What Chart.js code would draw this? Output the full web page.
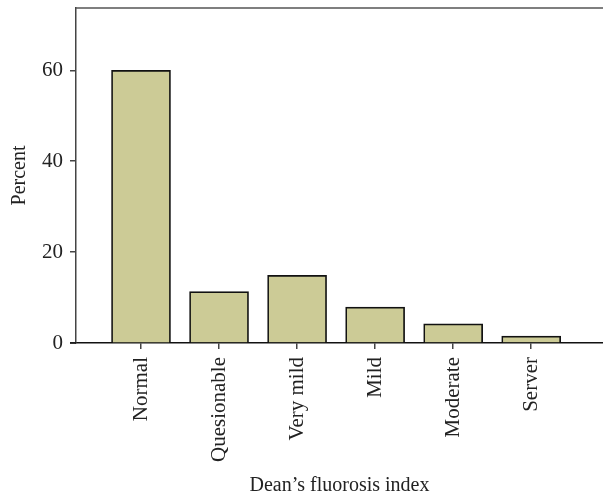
<!DOCTYPE html>
<html>
<head>
<meta charset="utf-8">
<script src="https://cdn.jsdelivr.net/npm/chart.js@4/dist/chart.umd.min.js"></script>
<style>
  html, body { margin: 0; padding: 0; background: #fff; overflow: hidden; }
  #wrap { width: 603px; height: 500px; }
</style>
</head>
<body>
<div id="wrap"><canvas id="barChart"></canvas></div>
<script>
const categories = ["Normal", "Quesionable", "Very mild", "Mild", "Moderate", "Server"];
const percents = [60.0, 11.3, 14.9, 7.9, 4.2, 1.5];
const yTicks = [0, 20, 40, 60];

const FONT = "'Liberation Serif', 'Times New Roman', serif";
const AXIS = "#444";

// top frame line, and the x axis running a little past the y axis
const frameLines = {
  id: 'frameLines',
  afterDraw(chart) {
    const { ctx, chartArea } = chart;
    ctx.save();
    ctx.lineWidth = 1.5;
    ctx.strokeStyle = "#555";
    ctx.beginPath();
    ctx.moveTo(chartArea.left, chartArea.top);
    ctx.lineTo(chartArea.right, chartArea.top);
    ctx.stroke();
    ctx.strokeStyle = "#111";
    ctx.beginPath();
    ctx.moveTo(chartArea.left - 6, chartArea.bottom);
    ctx.lineTo(chartArea.left, chartArea.bottom);
    ctx.stroke();
    ctx.restore();
  }
};

const canvas = document.getElementById('barChart');
new Chart(canvas, {
  type: 'bar',
  data: {
    datasets: [{
      data: percents.map((v, i) => ({ x: i, y: v })),
      backgroundColor: "#cccb96",
      borderColor: "#111",
      borderWidth: 1.7,
      barThickness: 59
    }]
  },
  options: {
    responsive: true,
    maintainAspectRatio: false,
    animation: false,
    layout: { padding: { top: 8, right: 0, left: 0, bottom: 0 } },
    plugins: { legend: { display: false }, tooltip: { enabled: false } },
    scales: {
      x: {
        type: 'linear',
        min: -0.833,
        max: 5.92,
        offset: false,
        afterFit(scale) { scale.height = 157; scale.paddingLeft = 0; scale.paddingRight = 0; },
        afterBuildTicks(scale) { scale.ticks = categories.map((c, i) => ({ value: i })); },
        border: { color: "#111", width: 1.5 },
        grid: { offset: false, drawOnChartArea: false, tickLength: 6, color: AXIS, lineWidth: 1.5 },
        ticks: {
          includeBounds: false,
          autoSkip: false,
          minRotation: 90,
          maxRotation: 90,
          padding: 8,
          color: "#222",
          font: { family: FONT, size: 21 },
          callback: v => categories[v]
        },
        title: {
          display: true,
          text: "Dean\u2019s fluorosis index",
          color: "#222",
          font: { family: FONT, size: 20 },
          padding: { top: 0, bottom: 2 }
        }
      },
      y: {
        min: 0,
        max: 73.7,
        afterFit(scale) { scale.width = 76; scale.paddingTop = 0; scale.paddingBottom = 0; },
        afterBuildTicks(scale) { scale.ticks = yTicks.map(v => ({ value: v })); },
        border: { color: AXIS, width: 1.5 },
        grid: { drawOnChartArea: false, tickLength: 6, color: AXIS, lineWidth: 1.5 },
        ticks: {
          padding: 7,
          color: "#222",
          font: { family: FONT, size: 21 }
        },
        title: {
          display: true,
          text: "Percent",
          color: "#222",
          font: { family: FONT, size: 20 },
          padding: { top: 8, bottom: 0 }
        }
      }
    }
  },
  plugins: [frameLines]
});
</script>
</body>
</html>
